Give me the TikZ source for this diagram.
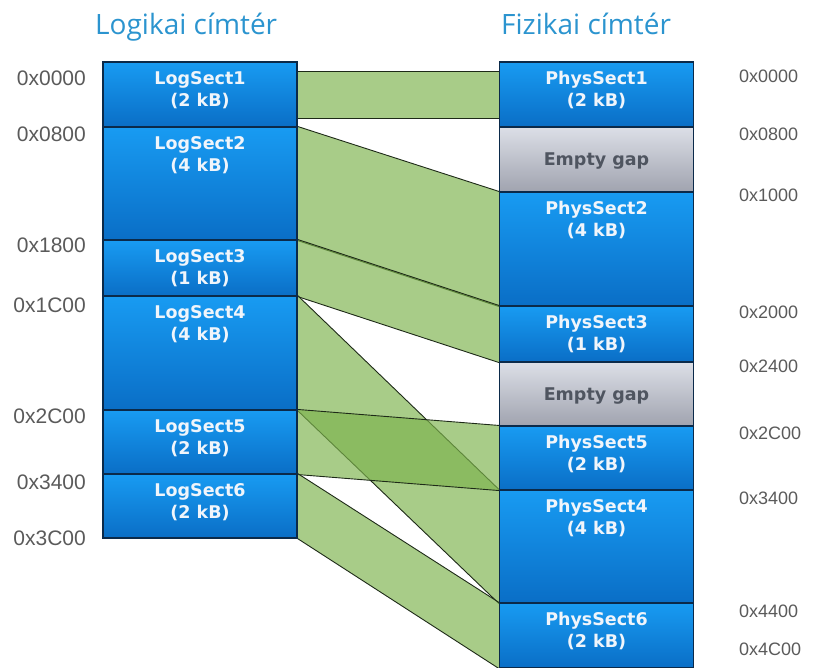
\documentclass[tikz,border=0pt]{standalone}
\usepackage{fontspec}
\setmainfont{DejaVu Sans}
\newfontfamily\titlefont{Open Sans}
\newfontfamily\addrfont{Liberation Sans}
\usetikzlibrary{calc}
\pgfdeclarelayer{bands}
\pgfsetlayers{bands,main}

\definecolor{boxtop}{HTML}{189BF2}
\definecolor{boxbot}{HTML}{0A6EC6}
\definecolor{boxedge}{HTML}{0B2A4A}
\definecolor{gaptop}{HTML}{DCDFE7}
\definecolor{gapbot}{HTML}{A0A3AF}
\definecolor{gapink}{HTML}{4F5560}
\definecolor{boxink}{HTML}{F0F5FB}
\definecolor{bandgreen}{RGB}{125,179,77}
\definecolor{bandline}{HTML}{1E2A18}
\definecolor{titleblue}{HTML}{2B94CF}
\definecolor{addrgray}{HTML}{5A5A5A}

\begin{document}
\begin{tikzpicture}[x=1pt,y=-1pt,
  secbox/.style={draw=boxedge, line width=1.1pt, top color=boxtop,
    bottom color=boxbot, inner sep=0pt, minimum width=194pt},
  gapbox/.style={secbox, top color=gaptop, bottom color=gapbot},
  sectext/.style={anchor=north, inner sep=0pt, align=center, text=boxink,
    font=\fontsize{17.5}{22}\selectfont\bfseries},
  gaptext/.style={anchor=base, inner sep=0pt, text=gapink,
    font=\fontsize{17.5}{22}\selectfont\bfseries},
  title/.style={anchor=base west, inner sep=0pt, text=titleblue,
    font=\fontsize{28}{32}\selectfont\titlefont},
  laddr/.style={anchor=base east, inner sep=0pt, text=addrgray,
    font=\fontsize{21}{24}\selectfont\addrfont},
  raddr/.style={anchor=base west, inner sep=0pt, text=addrgray,
    font=\fontsize{18}{21}\selectfont\addrfont},
  band/.style={fill=bandgreen, fill opacity=0.667},
  bandedge/.style={draw=bandline, line width=0.9pt}]

\useasboundingbox (0,0) rectangle (816,668);

% column titles
\node[title] (tl) at (95,35) {Logikai címtér};
\node[title] (tr) at (501,35) {Fizikai címtér};

% logical address space
\node[secbox, minimum height=65pt]  (L1) at (200,94.5)  {};
\node[secbox, minimum height=113pt] (L2) at (200,183.5) {};
\node[secbox, minimum height=56pt]  (L3) at (200,268)   {};
\node[secbox, minimum height=114pt] (L4) at (200,353)   {};
\node[secbox, minimum height=64pt]  (L5) at (200,442)   {};
\node[secbox, minimum height=64pt]  (L6) at (200,506)   {};

\node[sectext] (L1t) at ([yshift=-10pt]L1.north) {LogSect1\\(2 kB)};
\node[sectext] (L2t) at ([yshift=-10pt]L2.north) {LogSect2\\(4 kB)};
\node[sectext] (L3t) at ([yshift=-10pt]L3.north) {LogSect3\\(1 kB)};
\node[sectext] (L4t) at ([yshift=-10pt]L4.north) {LogSect4\\(4 kB)};
\node[sectext] (L5t) at ([yshift=-10pt]L5.north) {LogSect5\\(2 kB)};
\node[sectext] (L6t) at ([yshift=-10pt]L6.north) {LogSect6\\(2 kB)};

% physical address space
\node[secbox, minimum height=65pt]  (P1) at (596.5,94.5)  {};
\node[gapbox, minimum height=65pt]  (G1) at (596.5,159.5) {};
\node[secbox, minimum height=114pt] (P2) at (596.5,249)   {};
\node[secbox, minimum height=56pt]  (P3) at (596.5,334)   {};
\node[gapbox, minimum height=64pt]  (G2) at (596.5,394)   {};
\node[secbox, minimum height=64pt]  (P5) at (596.5,458)   {};
\node[secbox, minimum height=113pt] (P4) at (596.5,546.5) {};
\node[secbox, minimum height=65pt]  (P6) at (596.5,635.5) {};

\node[sectext] (P1t) at ([yshift=-10pt]P1.north) {PhysSect1\\(2 kB)};
\node[gaptext] (G1t) at ([yshift=-6pt]G1.center) {Empty gap};
\node[sectext] (P2t) at ([yshift=-10pt]P2.north) {PhysSect2\\(4 kB)};
\node[sectext] (P3t) at ([yshift=-10pt]P3.north) {PhysSect3\\(1 kB)};
\node[gaptext] (G2t) at ([yshift=-6pt]G2.center) {Empty gap};
\node[sectext] (P5t) at ([yshift=-10pt]P5.north) {PhysSect5\\(2 kB)};
\node[sectext] (P4t) at ([yshift=-10pt]P4.north) {PhysSect4\\(4 kB)};
\node[sectext] (P6t) at ([yshift=-10pt]P6.north) {PhysSect6\\(2 kB)};

% addresses
\node[laddr] (a0) at (86,86)  {0x0000};
\node[laddr] (a1) at (86,142) {0x0800};
\node[laddr] (a2) at (86,253) {0x1800};
\node[laddr] (a3) at (86,312) {0x1C00};
\node[laddr] (a4) at (86,423) {0x2C00};
\node[laddr] (a5) at (86,489) {0x3400};
\node[laddr] (a6) at (86,545) {0x3C00};

\node[raddr] (b0) at (739,83)  {0x0000};
\node[raddr] (b1) at (739,141) {0x0800};
\node[raddr] (b2) at (739,202) {0x1000};
\node[raddr] (b3) at (739,318) {0x2000};
\node[raddr] (b4) at (739,372) {0x2400};
\node[raddr] (b5) at (739,439) {0x2C00};
\node[raddr] (b6) at (739,504) {0x3400};
\node[raddr] (b7) at (739,617) {0x4400};
\node[raddr] (b8) at (739,655) {0x4C00};

% mapping bands between the two address spaces
\begin{pgfonlayer}{bands}
  \coordinate (m1a) at ([yshift=-10pt]L1.north east);
  \coordinate (m1b) at ([yshift=9pt]L1.south east);
  \coordinate (m1c) at ([yshift=-10pt]P1.north west);
  \coordinate (m1d) at ([yshift=9pt]P1.south west);
  \path[band] (m1a) -- (m1c) -- (m1d) -- (m1b) -- cycle;
  \draw[bandedge] (m1a) -- (m1c) (m1b) -- (m1d);

  \path[band] (L2.north east) -- (P2.north west) -- (P2.south west) -- (L2.south east) -- cycle;
  \draw[bandedge] (L2.north east) -- (P2.north west) (L2.south east) -- (P2.south west);

  \path[band] (L3.north east) -- (P3.north west) -- (P3.south west) -- (L3.south east) -- cycle;
  \draw[bandedge] (L3.north east) -- (P3.north west) (L3.south east) -- (P3.south west);

  \path[band] (L4.north east) -- (P4.north west) -- (P4.south west) -- (L4.south east) -- cycle;
  \draw[bandedge] (L4.north east) -- (P4.north west) (L4.south east) -- (P4.south west);

  \path[band] (L5.north east) -- (P5.north west) -- (P5.south west) -- (L5.south east) -- cycle;
  \draw[bandedge] (L5.north east) -- (P5.north west) (L5.south east) -- (P5.south west);

  \path[band] (L6.north east) -- (P6.north west) -- (P6.south west) -- (L6.south east) -- cycle;
  \draw[bandedge] (L6.north east) -- (P6.north west) (L6.south east) -- (P6.south west);
\end{pgfonlayer}
\end{tikzpicture}
\end{document}
